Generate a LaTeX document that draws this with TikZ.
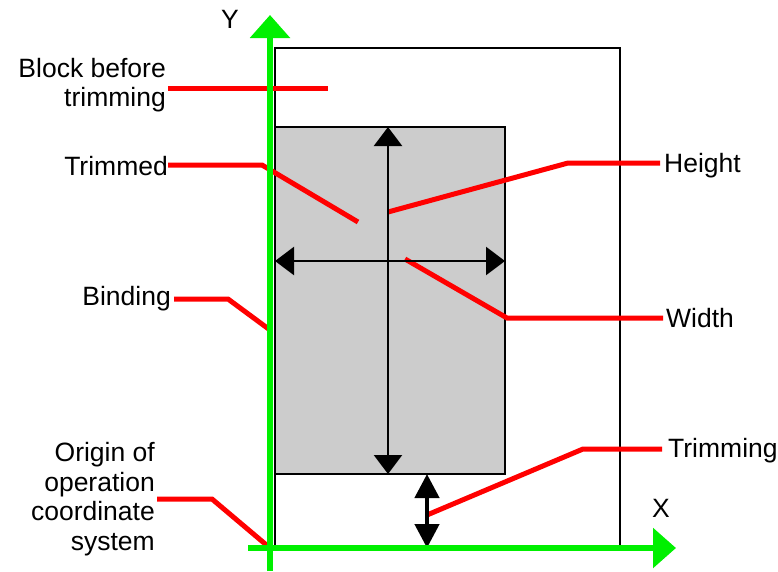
\documentclass[tikz,border=0pt]{standalone}
\usepackage{fontspec}
\setmainfont{Liberation Sans}
\usetikzlibrary{arrows.meta}
\definecolor{axisgreen}{RGB}{0,240,0}
\definecolor{leadred}{RGB}{255,0,0}
\definecolor{pagegray}{RGB}{204,204,204}
\begin{document}
\begin{tikzpicture}[x=1pt,y=-1pt,
  lbl/.style={font=\fontsize{26.5}{29.5}\selectfont, inner sep=0pt},
  lead/.style={draw=leadred, line width=5pt},
  dimarrow/.style={draw=black, line width=2.3pt, {Triangle[length=19pt,width=28pt]}-{Triangle[length=19pt,width=28pt]}},
  trimarrow/.style={draw=black, line width=4.5pt, {Triangle[length=24pt,width=24pt]}-{Triangle[length=24pt,width=24pt]}},
  axis/.style={draw=axisgreen, line width=6pt, -{Triangle[length=23pt,width=39pt]}},
  box/.style={draw=black, line width=2.5pt}]
\useasboundingbox (0,0) rectangle (778,571);
% outer block and trimmed block
\draw[box] (275,48) rectangle (620,548);
\filldraw[box, fill=pagegray] (275,127) rectangle (505,474);
% named points
\coordinate (htop) at (388,127);
\coordinate (hbot) at (388,474);
\coordinate (wl) at (275,261);
\coordinate (wr) at (505,261);
\coordinate (ttop) at (427,474);
\coordinate (tbot) at (427,548);
% labels
\node[lbl, anchor=east, align=right] (block) at (166,85) {Block before\\trimming};
\node[lbl, anchor=east] (trimmed) at (168,166) {Trimmed};
\node[lbl, anchor=east] (binding) at (171,299) {Binding};
\node[lbl, anchor=east, align=right] (origin) at (155,499) {Origin of\\operation\\coordinate\\system};
\node[lbl, anchor=west] (height) at (664,166) {Height};
\node[lbl, anchor=west] (width) at (666,318) {Width};
\node[lbl, anchor=west] (trimming) at (668,451) {Trimming};
\node[lbl] (ylab) at (230,19) {Y};
\node[lbl] (xlab) at (661,508) {X};
% red leader lines
\coordinate (b1) at (168,88);
\coordinate (b2) at (328,88);
\draw[lead] (b1) -- (b2);
\draw[lead] (trimmed.east) ++(0,-1) coordinate (t1) -- (262,165) -- (358,222);
\draw[lead] (388,212) -- (568,163) -- (660,163);
\draw[lead] (405,259) -- (507,318) -- (663,318);
\draw[lead] (binding.east) ++(3,0) coordinate (bd1) -- (228,299) -- (270,330);
\draw[lead] (157,499) -- (212,499) -- (270,548);
\draw[lead] (427,515) -- (583,449) -- (662,449);
% black dimension arrows
\draw[dimarrow] (htop) -- (hbot);
\draw[dimarrow] (wl) -- (wr);
\draw[trimarrow] (ttop) -- (tbot);
% axes
\coordinate (o) at (270,548);
\coordinate (yb) at (270,571);
\coordinate (yt) at (270,15);
\coordinate (xl) at (248,548);
\coordinate (xr) at (676,548);
\draw[axis] (yb) -- (yt);
\draw[axis] (xl) -- (xr);
\end{tikzpicture}
\end{document}
